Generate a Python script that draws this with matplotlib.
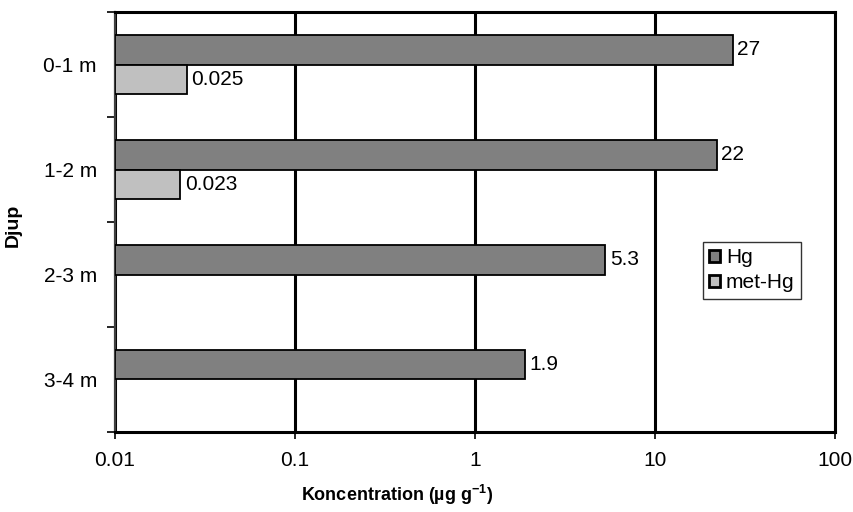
import matplotlib
matplotlib.use("Agg")
import matplotlib.pyplot as plt
import numpy as np

plt.rcParams['font.family'] = ['Liberation Sans', 'DejaVu Sans']
plt.rcParams['mathtext.fontset'] = 'custom'
plt.rcParams['mathtext.bf'] = 'Liberation Sans:bold'
plt.rcParams['mathtext.rm'] = 'Liberation Sans:bold'

categories = ["0-1 m", "1-2 m", "2-3 m", "3-4 m"]
hg = [27, 22, 5.3, 1.9]
met_hg = [0.025, 0.023, None, None]
hg_labels = ["27", "22", "5.3", "1.9"]
met_labels = ["0.025", "0.023", None, None]
xticks = [0.01, 0.1, 1, 10, 100]
xticklabels = ["0.01", "0.1", "1", "10", "100"]

FS = 15

fig = plt.figure(figsize=(8.54, 5.12), dpi=100)
ax = fig.add_axes([115/854, 1-432/512, 720/854, 420/512])

y = np.arange(len(categories))
h = 0.2857
base = 0.01
ax.barh(y - h/2, [v - base for v in hg], left=base, height=h, color="#808080",
        edgecolor="black", linewidth=1.3, label="Hg", zorder=3)
mv = [v if v is not None else np.nan for v in met_hg]
ax.barh(y + h/2, [v - base if v == v else 0 for v in mv], left=base, height=h, color="#C0C0C0",
        edgecolor="black", linewidth=1.3, label="met-Hg", zorder=3)
for p in ax.patches:
    if p.get_width() == 0:
        p.set_visible(False)

for i, (v, lab) in enumerate(zip(hg, hg_labels)):
    ax.text(v * 1.06, i - h/2, lab, va="center", ha="left", fontsize=FS)
for i, (v, lab) in enumerate(zip(met_hg, met_labels)):
    if v is not None:
        ax.text(v * 1.06, i + h/2, lab, va="center", ha="left", fontsize=FS)

ax.set_xscale("log")
ax.set_xlim(0.01, 100)
ax.set_ylim(3.5, -0.5)
ax.set_xticks(xticks)
ax.set_xticklabels(xticklabels, fontsize=FS)
ax.xaxis.set_minor_locator(matplotlib.ticker.NullLocator())
ax.set_yticks(y)
ax.set_yticklabels(categories, fontsize=FS)
ax.set_yticks(np.arange(-0.5, 4.0, 1.0), minor=True)
ax.tick_params(axis="y", which="major", length=0, pad=13)
ax.tick_params(axis="y", which="minor", length=6, width=1.2, direction="out", color="black")
ax.tick_params(axis="x", which="major", length=5, width=1.2, direction="out", pad=9)

ax.grid(axis="x", which="major", color="black", linewidth=2.2, zorder=1)
for s in ["top", "right", "bottom"]:
    ax.spines[s].set_color("black")
    ax.spines[s].set_linewidth(2.2)
ax.spines["left"].set_color("#404040")
ax.spines["left"].set_linewidth(1.6)

ax.set_xlabel("Koncentration (µg g$^{\\mathrm{-1}}$)", fontsize=13, fontweight="bold")
ax.xaxis.set_label_coords((397-115)/720, (432-483)/420)
ax.set_ylabel("Djup", fontsize=14, fontweight="bold")
ax.yaxis.set_label_coords((22-115)/720, (432-225)/420)

leg = ax.legend(loc="upper left", bbox_to_anchor=((703-115)/720, (432-242)/420),
                fontsize=FS, frameon=True, fancybox=False, edgecolor="black",
                handlelength=0.5, handleheight=0.5, handletextpad=0.3,
                borderpad=0.3, labelspacing=0.3, borderaxespad=0)
leg.get_frame().set_linewidth(1.0)
for hnd in leg.legend_handles:
    hnd.set_linewidth(2.0)

fig.savefig("out.png", dpi=100)
